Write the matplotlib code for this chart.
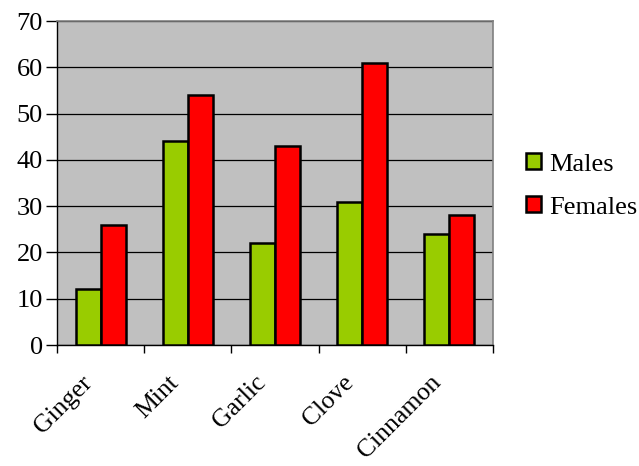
import numpy as np
import matplotlib.pyplot as plt
import matplotlib.transforms as mtransforms
from matplotlib.ticker import FixedLocator

# Dados
categorias = ['Ginger', 'Mint', 'Garlic', 'Clove', 'Cinnamon']
machos = [12, 44, 22, 31, 24]
femeas = [26, 54, 43, 61, 28]

plt.rcParams['font.family'] = ['Liberation Serif', 'DejaVu Serif']

fig = plt.figure(figsize=(6.39, 4.66), dpi=100)
ax = fig.add_axes([57 / 639, 121 / 466, 436 / 639, 324 / 466])
ax.set_facecolor('#C0C0C0')

x = np.arange(len(categorias))
largura = 1 / 3.5
ax.bar(x - largura / 2, machos, largura, color='#99CC00', edgecolor='black',
       linewidth=1.8, label='Males', zorder=3)
ax.bar(x + largura / 2, femeas, largura, color='#FF0000', edgecolor='black',
       linewidth=1.8, label='Females', zorder=3)

# Eixos
ax.set_xlim(-0.5, len(categorias) - 0.5)
ax.set_ylim(0, 70)
ax.set_yticks(range(0, 71, 10))
ax.yaxis.grid(True, color='black', linewidth=0.9, zorder=1)
ax.tick_params(axis='y', labelsize=19, length=8, width=1, direction='out', pad=2)

ax.set_xticks(x)
ax.set_xticklabels(categorias, rotation=45, ha='right', rotation_mode='anchor',
                   fontsize=18.5)
ax.tick_params(axis='x', which='major', length=0, pad=19)
desloc = mtransforms.ScaledTranslation(-20 / 100, 0, fig.dpi_scale_trans)
for rotulo in ax.get_xticklabels():
    rotulo.set_transform(rotulo.get_transform() + desloc)
ax.xaxis.set_minor_locator(FixedLocator(np.arange(-0.5, len(categorias), 1)))
ax.tick_params(axis='x', which='minor', length=6, width=1, direction='out')

for lado in ['top', 'right']:
    ax.spines[lado].set_color('#808080')
    ax.spines[lado].set_linewidth(1.2)
for lado in ['left', 'bottom']:
    ax.spines[lado].set_color('black')
    ax.spines[lado].set_linewidth(1.0)

fig.legend(loc='center left', bbox_to_anchor=(526 / 639, 1 - 186 / 466),
           frameon=False, fontsize=19, handlelength=0.55, handleheight=0.55,
           handletextpad=0.34, labelspacing=0.78, borderpad=0, borderaxespad=0)

fig.savefig('out.png', dpi=100)
